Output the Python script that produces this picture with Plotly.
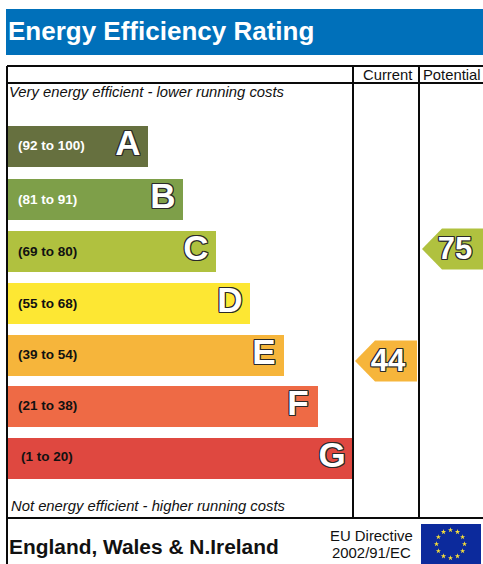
import math
import plotly.graph_objects as go

# ---- data ----
letters = ["A", "B", "C", "D", "E", "F", "G"]
bands = ["(92 to 100)", "(81 to 91)", "(69 to 80)", "(55 to 68)", "(39 to 54)", "(21 to 38)", "(1 to 20)"]
band_low = [92, 81, 69, 55, 39, 21, 1]
bar_lengths = [140, 175, 208, 242, 276, 310, 344]
colors = ["#66703F", "#7E9F49", "#B0C13F", "#FDE733", "#F6B53B", "#EE6A45", "#DF4840"]
band_text_colors = ["#FFFFFF", "#FFFFFF", "#111111", "#111111", "#111111", "#111111", "#111111"]
current_score = 44
potential_score = 75

FONT = "Liberation Sans"
W, H = 483, 564
BAR_LEFT = 8
ROW_TOPS = [126, 179, 231, 283, 335, 386, 438]
ROW_H = 41
centers = [t + ROW_H / 2 for t in ROW_TOPS]
LETTER_RIGHT_PAD = 20
SHADOW = ", ".join(f"{dx}px {dy}px 0 #2a2a2a" for dx, dy in
                   [(1, 0), (-1, 0), (0, 1), (0, -1), (1, 1), (-1, -1), (1, -1), (-1, 1)])


def row_of(score):
    return next(i for i, low in enumerate(band_low) if score >= low)


def pentagon(c, tip, shoulder, right):
    h = ROW_H / 2
    return [tip, shoulder, right, right, shoulder, tip], [c, c - h, c - h, c + h, c + h, c]


fig = go.Figure()

fig.add_trace(go.Bar(
    y=centers, x=bar_lengths, base=BAR_LEFT, orientation="h", width=ROW_H,
    marker=dict(color=colors, line=dict(width=0)), hoverinfo="skip", showlegend=False,
))

# band range labels
band_x = [18, 18, 18, 18, 18, 18, 21]
band_dy = [0, 1, 1, 1, 0, 0, -1]
fig.add_trace(go.Scatter(
    x=band_x, y=[c + d for c, d in zip(centers, band_dy)], mode="text", text=bands, textposition="middle right",
    textfont=dict(family=FONT, size=13.5, weight="bold", color=band_text_colors),
    hoverinfo="skip", showlegend=False,
))

# rating letters
fig.add_trace(go.Scatter(
    x=[BAR_LEFT + l - LETTER_RIGHT_PAD for l in bar_lengths], y=centers, mode="text", text=letters,
    textposition="middle center",
    textfont=dict(family=FONT, size=35, weight="bold", color="#FFFFFF", shadow=SHADOW),
    hoverinfo="skip", showlegend=False,
))

# arrows: each sits a few pixels off its band's row, as in the reference
for score, dy, tip, shoulder, right, tx in [
    (current_score, 5.5, 355, 375, 417, 388),
    (potential_score, -2.5, 422, 442, 483, 455),
]:
    row = row_of(score)
    c = centers[row] + dy
    xs, ys = pentagon(c, tip, shoulder, right)
    fig.add_trace(go.Scatter(
        x=xs, y=ys, mode="lines", fill="toself", fillcolor=colors[row],
        line=dict(width=0, color=colors[row]), hoverinfo="skip", showlegend=False,
    ))
    fig.add_trace(go.Scatter(
        x=[tx], y=[c + 2], mode="text", text=[str(score)], textposition="middle center",
        textfont=dict(family=FONT, size=31, weight="bold", color="#FFFFFF", shadow=SHADOW),
        hoverinfo="skip", showlegend=False,
    ))

# EU stars
star_cx, star_cy, star_r = 450.5, 544, 14
fig.add_trace(go.Scatter(
    x=[star_cx + star_r * math.sin(math.radians(30 * i)) for i in range(12)],
    y=[star_cy - star_r * math.cos(math.radians(30 * i)) for i in range(12)],
    mode="markers", marker=dict(symbol="star", size=4, color="#F4DC3A", line=dict(width=0)),
    hoverinfo="skip", showlegend=False,
))

shapes = [dict(type="rect", x0=6, x1=W, y0=9, y1=55, fillcolor="#0070BA", line=dict(width=0), layer="below"),
          dict(type="rect", x0=421, x1=481, y0=524, y1=564, fillcolor="#0C2A9C", line=dict(width=0), layer="below")]
for x0, y0, x1, y1 in [
    (7, 66, W, 66), (7, 83, W, 83), (7, 518, W, 518),
    (7, 66, 7, H), (353, 66, 353, 518), (419, 66, 419, 518),
]:
    shapes.append(dict(type="line", x0=x0, x1=x1, y0=y0, y1=y1, line=dict(color="#0a0a0a", width=2), layer="above"))


def label(text, x, y, size, anchor="left", color="#111111", bold=False, italic=False):
    return dict(x=x, y=y, xref="x", yref="y", text=text, showarrow=False, xanchor=anchor, yanchor="middle",
                font=dict(family=FONT, size=size, color=color, weight="bold" if bold else "normal",
                          style="italic" if italic else "normal"))


annotations = [
    label("Energy Efficiency Rating", 6, 31, 26, color="#FFFFFF", bold=True),
    label("Current", 387, 75, 14.8, "center"),
    label("Potential", 451.5, 75, 14.8, "center"),
    label("Very energy efficient - lower running costs", 7, 92, 14.8, italic=True),
    label("Not energy efficient - higher running costs", 9, 506, 14.8, italic=True),
    label("England, Wales &amp; N.Ireland", 7, 546, 20.9, bold=True),
    label("EU Directive", 371, 536, 14.9, "center"),
    label("2002/91/EC", 371, 553, 14.9, "center"),
]

fig.update_layout(
    width=W, height=H, margin=dict(l=0, r=0, t=0, b=0), paper_bgcolor="white", plot_bgcolor="white",
    xaxis=dict(range=[0, W], visible=False, fixedrange=True),
    yaxis=dict(range=[H, 0], visible=False, fixedrange=True),
    shapes=shapes, annotations=annotations, showlegend=False, barmode="overlay",
)
fig.write_html("out.html", config=dict(displayModeBar=False),
               post_script="document.body.style.margin='0';document.documentElement.style.overflow='hidden';")
